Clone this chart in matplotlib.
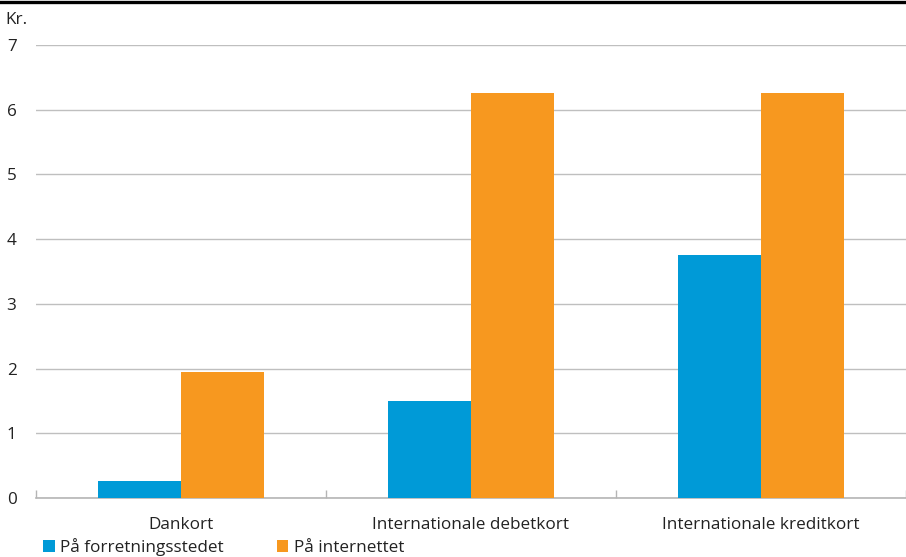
import numpy as np
import matplotlib
matplotlib.use('Agg')
import matplotlib.pyplot as plt
from matplotlib.lines import Line2D

plt.rcParams['font.family'] = ['Open Sans', 'DejaVu Sans']

categories = ["Dankort", "Internationale debetkort", "Internationale kreditkort"]
series_names = ["På forretningsstedet", "På internettet"]
butik = [0.26, 1.50, 3.76]
internet = [1.95, 6.26, 6.26]
colors = ["#009AD7", "#F7981F"]

W, H = 906, 557
FS = 12.3
fig = plt.figure(figsize=(W / 100, H / 100), dpi=100)
fig.patch.set_facecolor('white')
ax = fig.add_axes([36 / W, 1 - 498 / H, (W - 36) / W, (498 - 45) / H])

x = np.arange(len(categories))
bw = 0.286
ax.bar(x - bw / 2, butik, width=bw, color=colors[0], label=series_names[0], zorder=3)
ax.bar(x + bw / 2, internet, width=bw, color=colors[1], label=series_names[1], zorder=3)

ax.set_xlim(-0.5, len(categories) - 0.5)
ax.set_ylim(0, 7)
ax.set_yticks(range(0, 8))
ax.yaxis.grid(True, color='#bfbfbf', linewidth=1.0, zorder=0)
ax.set_axisbelow(True)
for s in ['top', 'right', 'left']:
    ax.spines[s].set_visible(False)
ax.spines['bottom'].set_color('#b5b5b5')
ax.spines['bottom'].set_linewidth(1.2)
ax.tick_params(axis='y', length=0, labelsize=FS, pad=14, labelcolor='#222222')

# category labels at centres, separator ticks at boundaries
ax.set_xticks(x)
ax.set_xticklabels(categories, fontsize=FS, color='#222222')
ax.tick_params(axis='x', which='major', length=0, pad=14)
ax.set_xticks(np.arange(-0.5, len(categories)), minor=True)
ax.tick_params(axis='x', which='minor', direction='in', length=6, color='#b5b5b5', width=1)

fig.text(5 / W, 1 - 20 / H, "Kr.", fontsize=FS, color='#222222', ha='left', va='center')

fig.add_artist(Line2D([0, 1], [1 - 2 / H, 1 - 2 / H], color='black', linewidth=2.4,
                      transform=fig.transFigure))

leg = fig.legend(loc='lower left', bbox_to_anchor=(36 / W, -6 / H), ncol=2, frameon=False,
                 fontsize=FS, handlelength=0.7, handleheight=0.7, handletextpad=0.3,
                 columnspacing=3.1, borderaxespad=0)
for t in leg.get_texts():
    t.set_color('#222222')

fig.savefig("out.png", dpi=100)
